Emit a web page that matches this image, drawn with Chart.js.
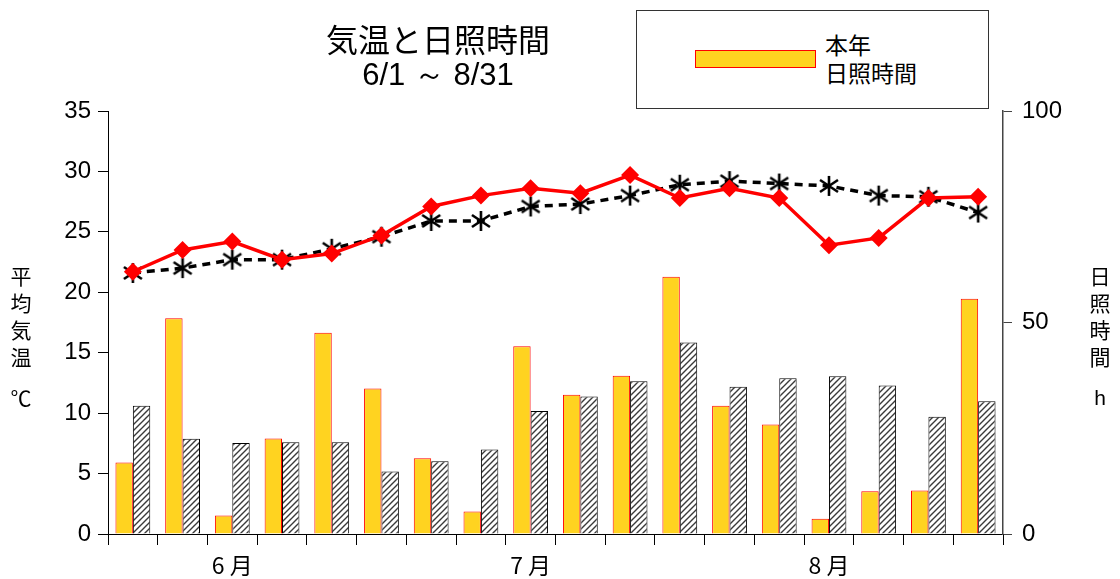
<!DOCTYPE html>
<html><head><meta charset="utf-8">
<script src="https://cdn.jsdelivr.net/npm/chart.js@4.4.1/dist/chart.umd.min.js"></script>
<style>
html,body{margin:0;padding:0;background:#fff;}
#wrap{position:relative;width:1120px;height:579px;}
canvas{position:absolute;left:0;top:0;}
.t{position:absolute;font-family:"Noto Sans CJK JP","Liberation Sans",sans-serif;color:#000;}
</style></head>
<body>
<div id="wrap">
<canvas id="c" width="1120" height="579"></canvas>
<div class="t" style="left:290px;top:22px;width:296px;text-align:center;font-size:32px;line-height:33px;">気温と日照時間<br><span style="font-family:'Liberation Sans',sans-serif;font-size:31px;">6/1 ～ 8/31</span></div>
<div style="position:absolute;left:636px;top:10px;width:351px;height:97px;border:1px solid #333;background:#fff;"></div>
<div style="position:absolute;left:695px;top:50px;width:119px;height:16px;background:#FFD320;border:1px solid #f00;"></div>
<div class="t" style="left:825px;top:30px;font-size:23px;line-height:28px;">本年<br>日照時間</div>
<div class="t" style="left:9px;top:262px;width:24px;text-align:center;font-size:21px;line-height:27px;">平<br>均<br>気<br>温<br><span style="display:inline-block;margin-top:14px;">℃</span></div>
<div class="t" style="left:1088px;top:262px;width:24px;text-align:center;font-size:21px;line-height:27px;">日<br>照<br>時<br>間<br><span style="display:inline-block;margin-top:14px;font-family:'Liberation Sans',sans-serif;">h</span></div>
</div>
<script>
// ---- data ----
const categories = ['1','2','3','4','5','6','7','8','9','10','11','12','13','14','15','16','17','18'];
const monthLabels = {2:'6 月', 8:'7 月', 14:'8 月'};
const sunThisYear = [16.9,51.0,4.4,22.6,47.6,34.4,17.9,5.3,44.4,32.9,37.4,60.8,30.3,25.9,3.6,10.1,10.3,55.6];
const sunNormal   = [30.3,22.5,21.5,21.7,21.7,14.8,17.2,20.0,29.1,32.5,36.1,45.3,34.8,36.8,37.3,35.1,27.7,31.4];
const tempThisYear = [21.7,23.5,24.2,22.7,23.2,24.7,27.1,28.0,28.6,28.2,29.7,27.8,28.6,27.8,23.9,24.5,27.8,27.9];
const tempNormal   = [21.6,22.0,22.7,22.7,23.6,24.6,25.9,25.9,27.1,27.3,28.0,28.9,29.2,29.0,28.8,28.0,27.9,26.6];
const tempTicks = [0,5,10,15,20,25,30,35];
const sunTicks = [0,50,100];

// hatch pattern
const pc = document.createElement('canvas'); pc.width = 6; pc.height = 6;
const px = pc.getContext('2d');
px.fillStyle = '#fff'; px.fillRect(0,0,6,6);
px.strokeStyle = '#3a3a3a'; px.lineWidth = 1.4;
px.beginPath(); px.moveTo(-1,7); px.lineTo(7,-1); px.moveTo(-1,1); px.lineTo(1,-1); px.moveTo(5,7); px.lineTo(7,5); px.stroke();
const hatch = px.createPattern(pc,'repeat');

// asterisk marker
const ac = document.createElement('canvas'); ac.width = 22; ac.height = 22;
const ax = ac.getContext('2d');
ax.strokeStyle = '#000'; ax.lineWidth = 2.6;
ax.beginPath();
ax.moveTo(11,1); ax.lineTo(11,21);
ax.moveTo(2,5); ax.lineTo(20,17);
ax.moveTo(2,17); ax.lineTo(20,5);
ax.stroke();

new Chart(document.getElementById('c'), {
  data: {
    labels: categories,
    datasets: [
      {type:'line', data: tempThisYear, yAxisID:'y', borderColor:'#ff0000', backgroundColor:'#ff0000', borderWidth:3.5,
       pointStyle:'rectRot', pointRadius:9, pointBorderWidth:0, tension:0, order:0},
      {type:'line', data: tempNormal, yAxisID:'y', borderColor:'#000', borderWidth:3.5, borderDash:[8,6],
       pointStyle: ac, tension:0, order:1},
      {type:'bar', data: sunThisYear, yAxisID:'y1', backgroundColor:'#FFD320', borderColor:'#ff0000', borderWidth:1,
       categoryPercentage:0.7, barPercentage:1.0, order:2},
      {type:'bar', data: sunNormal, yAxisID:'y1', backgroundColor: hatch, borderColor:'#000', borderWidth:1,
       categoryPercentage:0.7, barPercentage:1.0, order:3}
    ]
  },
  options: {
    responsive:false, animation:false,
    layout:{padding:{top:111,left:0,right:0,bottom:0}},
    plugins:{legend:{display:false}, tooltip:{enabled:false}},
    scales:{
      x:{
        offset:true,
        grid:{offset:true, drawOnChartArea:false, drawTicks:true, tickLength:11, color:'#000', lineWidth:1},
        border:{color:'#000', width:1},
        ticks:{autoSkip:false, maxRotation:0, padding:6, color:'#000',
          font:{family:"'Noto Sans CJK JP','Liberation Sans',sans-serif", size:23},
          callback:(v,i)=> monthLabels[i] || ''},
        afterFit:(s)=>{s.height=45;}
      },
      y:{
        position:'left', min:0, max:35,
        afterBuildTicks:(s)=>{s.ticks = tempTicks.map(v=>({value:v}));},
        grid:{drawOnChartArea:false, drawTicks:true, tickLength:10, color:'#000'},
        border:{color:'#000', width:1},
        ticks:{padding:7, color:'#000', font:{family:"'Liberation Sans',sans-serif", size:24}},
        afterFit:(s)=>{s.width=108;}
      },
      y1:{
        position:'right', min:0, max:100,
        afterBuildTicks:(s)=>{s.ticks = sunTicks.map(v=>({value:v}));},
        grid:{drawOnChartArea:false, drawTicks:true, tickLength:9, color:'#444'},
        border:{color:'#444', width:1.5},
        ticks:{padding:10, color:'#000', font:{family:"'Liberation Sans',sans-serif", size:24}},
        afterFit:(s)=>{s.width=117;}
      }
    }
  }
});
</script>
</body></html>
